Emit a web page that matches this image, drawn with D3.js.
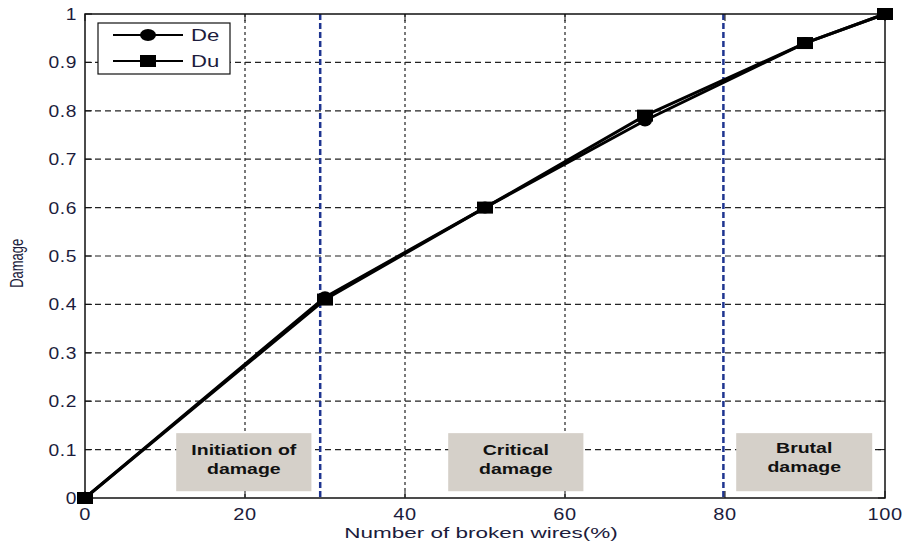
<!DOCTYPE html>
<html>
<head>
<meta charset="utf-8">
<script src="https://cdn.jsdelivr.net/npm/d3@7"></script>
<style>
  body { margin: 0; background: #fff; }
  text { font-family: "Liberation Sans", Arial, sans-serif; }
  .tick_lbl { font-size: 16px; fill: #1c1c3c; letter-spacing: 0.5px; }
  .zone_lbl { font-size: 15px; font-weight: bold; fill: #111; }
</style>
</head>
<body>
<div class="fig"></div>
<script>
// data
var wires = [0, 30, 50, 70, 90, 100];
var deValues = [0, 0.415, 0.6, 0.78, 0.94, 1];
var duValues = [0, 0.41, 0.6, 0.79, 0.94, 1];
var xTicks = [0, 20, 40, 60, 80, 100];
var yTicks = [0, 0.1, 0.2, 0.3, 0.4, 0.5, 0.6, 0.7, 0.8, 0.9, 1];
var zoneBounds = [29.4, 79.8];
var zoneLabels = [
    {from: 11.4, to: 28.3, lines: ["Initiation of", "damage"]},
    {from: 45.4, to: 62.3, lines: ["Critical", "damage"]},
    {from: 81.4, to: 98.4, lines: ["Brutal", "damage"]}
];

// the original picture is stretched sideways, text too
var stretch = 1.3;

function wideText(parent, x, y, txt, sx) {
    return parent.append("text")
        .attr("transform", "translate(" + x + "," + y + ") scale(" + sx + ",1)")
        .text(txt);
}

function drawChart() {

    var svgWidth = 909, svgHeight = 543;
    var margin = {top: 14, right: 24, bottom: 45, left: 85};
    var width = svgWidth - margin.left - margin.right;
    var height = svgHeight - margin.top - margin.bottom;

    var svg = d3.select(".fig").append("svg")
        .attr("width", svgWidth)
        .attr("height", svgHeight);

    var g = svg.append("g")
        .attr("transform", "translate(" + margin.left + "," + margin.top + ")");

    var xScale = d3.scaleLinear().domain([0, 100]).range([0, width]);
    var yScale = d3.scaleLinear().domain([0, 1]).range([height, 0]);

    // horizontal grid
    g.selectAll(".hgrid")
        .data(yTicks.filter(d => d > 0 && d < 1))
        .enter().append("line")
        .attr("x1", 0).attr("x2", width)
        .attr("y1", d => yScale(d)).attr("y2", d => yScale(d))
        .attr("stroke", "#222")
        .attr("stroke-width", 1.2)
        .attr("stroke-dasharray", "6,4");

    // vertical grid (80 is covered by the blue zone line)
    g.selectAll(".vgrid")
        .data(xTicks.filter(d => d > 0 && d < 80))
        .enter().append("line")
        .attr("x1", d => xScale(d)).attr("x2", d => xScale(d))
        .attr("y1", 0).attr("y2", height)
        .attr("stroke", "#222")
        .attr("stroke-width", 1.2)
        .attr("stroke-dasharray", "3,3");

    // zone label boxes
    var zones = g.selectAll(".zone")
        .data(zoneLabels)
        .enter().append("g");

    zones.append("rect")
        .attr("x", d => xScale(d.from))
        .attr("width", d => xScale(d.to) - xScale(d.from))
        .attr("y", yScale(0.134))
        .attr("height", yScale(0.014) - yScale(0.134))
        .attr("fill", "#d5d0c9");

    zones.each(function(d) {
        var cx = (xScale(d.from) + xScale(d.to)) / 2;
        var sel = d3.select(this);
        d.lines.forEach(function(t, i) {
            wideText(sel, cx, yScale(0.1) + 5 + i * 19 - (d.lines[0] == "Brutal" ? 2 : 0), t, stretch)
                .attr("class", "zone_lbl")
                .attr("text-anchor", "middle");
        });
    });

    // blue zone boundaries
    g.selectAll(".zoneLine")
        .data(zoneBounds)
        .enter().append("line")
        .attr("x1", d => xScale(d)).attr("x2", d => xScale(d))
        .attr("y1", 0).attr("y2", height)
        .attr("stroke", "#1f3590")
        .attr("stroke-width", 2.5)
        .attr("stroke-dasharray", "6,3");

    // frame
    g.append("rect")
        .attr("width", width).attr("height", height)
        .attr("fill", "none")
        .attr("stroke", "#111")
        .attr("stroke-width", 1.5);

    // ticks (inside, both sides)
    xTicks.forEach(function(t) {
        g.append("line").attr("x1", xScale(t)).attr("x2", xScale(t))
            .attr("y1", height).attr("y2", height - 7).attr("stroke", "#111");
        g.append("line").attr("x1", xScale(t)).attr("x2", xScale(t))
            .attr("y1", 0).attr("y2", 7).attr("stroke", "#111");
        wideText(g, xScale(t), height + 22, t, 1.25)
            .attr("class", "tick_lbl")
            .attr("text-anchor", "middle");
    });
    yTicks.forEach(function(t) {
        g.append("line").attr("x1", 0).attr("x2", 7)
            .attr("y1", yScale(t)).attr("y2", yScale(t)).attr("stroke", "#111");
        g.append("line").attr("x1", width).attr("x2", width - 7)
            .attr("y1", yScale(t)).attr("y2", yScale(t)).attr("stroke", "#111");
        wideText(g, -8, yScale(t) + 6, d3.format("~g")(t), 1.2)
            .attr("class", "tick_lbl")
            .attr("text-anchor", "end");
    });

    // axis titles
    wideText(svg, margin.left + width / 2 - 4, 538, "Number of broken wires(%)", 1.5)
        .attr("text-anchor", "middle")
        .style("font-size", "15px")
        .style("fill", "#1c1c3c");

    svg.append("text")
        .attr("transform", "translate(23," + (margin.top + yScale(0.485)) + ") rotate(-90) scale(1,1.35)")
        .attr("text-anchor", "middle")
        .style("font-size", "13px")
        .style("fill", "#1c1c3c")
        .text("Damage");

    var line = d3.line()
        .x(d => xScale(d[0]))
        .y(d => yScale(d[1]));

    var deData = wires.map((w, i) => [w, deValues[i]]);
    var duData = wires.map((w, i) => [w, duValues[i]]);

    g.append("path").datum(deData)
        .attr("d", line).attr("fill", "none")
        .attr("stroke", "#000").attr("stroke-width", 3);
    g.append("path").datum(duData)
        .attr("d", line).attr("fill", "none")
        .attr("stroke", "#000").attr("stroke-width", 3);

    g.selectAll(".deMark").data(deData).enter().append("ellipse")
        .attr("cx", d => xScale(d[0])).attr("cy", d => yScale(d[1]))
        .attr("rx", 7).attr("ry", 6).attr("fill", "#000");
    g.selectAll(".duMark").data(duData).enter().append("rect")
        .attr("x", d => xScale(d[0]) - 8).attr("y", d => yScale(d[1]) - 6)
        .attr("width", 16).attr("height", 12).attr("fill", "#000");

    // legend
    var leg = svg.append("g").attr("transform", "translate(98,23)");
    leg.append("rect").attr("width", 132).attr("height", 51)
        .attr("fill", "#fff").attr("stroke", "#111").attr("stroke-width", 1.2);
    [["De", "circle"], ["Du", "square"]].forEach(function(item, i) {
        var yy = 12 + i * 26;
        leg.append("line").attr("x1", 15).attr("x2", 85)
            .attr("y1", yy).attr("y2", yy)
            .attr("stroke", "#000").attr("stroke-width", 2);
        if (item[1] == "circle") {
            leg.append("ellipse").attr("cx", 50).attr("cy", yy).attr("rx", 8).attr("ry", 6).attr("fill", "#000");
        } else {
            leg.append("rect").attr("x", 42).attr("y", yy - 6).attr("width", 16).attr("height", 12).attr("fill", "#000");
        }
        wideText(leg, 93, yy + 6, item[0], stretch)
            .style("font-size", "17px").style("fill", "#1c1c3c");
    });
}

drawChart();
</script>
</body>
</html>
